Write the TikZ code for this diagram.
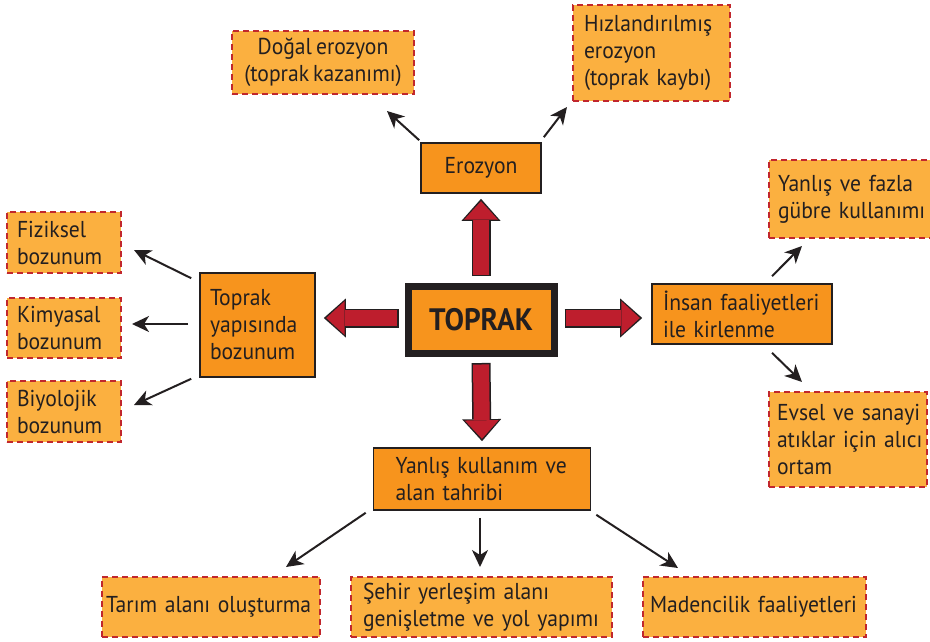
\documentclass[tikz,border=0pt]{standalone}
\usepackage{fontspec}
\setmainfont{PT Sans}[WordSpace=0.7, FakeStretch=0.94]
\usetikzlibrary{arrows.meta, positioning}
\definecolor{corange}{HTML}{F7941D}
\definecolor{clight}{HTML}{FBB040}
\definecolor{cred}{HTML}{BE1E2D}
\definecolor{cdash}{HTML}{C1272D}
\definecolor{cdark}{HTML}{231F20}
\tikzset{
  every node/.style={font=\fontsize{23}{27}\selectfont, text=cdark},
  main/.style={draw=cdark, fill=corange, line width=7pt, minimum width=146pt, minimum height=67pt, font=\fontsize{31}{34}\selectfont\bfseries},
  mid/.style={draw=cdark, fill=corange, line width=1.6pt, align=left, inner xsep=10pt},
  leaf/.style={draw=cdash, fill=clight, line width=2pt, dash pattern=on 6pt off 4pt, align=left, inner xsep=10pt},
  arrow/.style={-{Stealth[length=17pt, width=16pt, inset=5pt]}, draw=cdark, line width=2pt},
  blockarr/.style={draw=cdark, line width=19pt, -{Triangle[length=22pt, width=39pt, line width=0pt]},
    postaction={draw=cred, line width=16pt, -{Triangle[length=18.5pt, width=34pt, line width=0pt]}, shorten >=2.4pt, shorten <=1.5pt}},
}
\begin{document}
\begin{tikzpicture}[x=1pt, y=-1pt]
  \useasboundingbox (0,0) rectangle (930,641);
  \clip (0,0) rectangle (930,641);
  % centre and main branches
  \node[main] (top) at (481,320) {TOPRAK};
  \node[mid, minimum width=120pt, minimum height=50pt] (ero) at (481,168) {Erozyon};
  \node[mid, text width=95pt, minimum height=104pt] (yapi) at (257.5,325) {Toprak\\yapısında\\bozunum};
  \node[mid, inner xsep=11pt, text width=158pt, minimum height=60pt] (insan) at (742,314) {\mbox{İnsan faaliyetleri}\\ile kirlenme};
  \node[mid, inner xsep=22pt, text width=173pt, minimum height=62pt] (yanlis) at (482,479) {\mbox{Yanlış kullanım ve}\\alan tahribi};
  \draw[blockarr] ([shift={(0,-7)}]top.north) -- ([shift={(0,5)}]ero.south);
  \draw[blockarr] ([shift={(0,6)}]top.south) -- ([shift={(0,-6)}]yanlis.north);
  \draw[blockarr] ([shift={(-6,-2)}]top.west) -- ([shift={(8,-7)}]yapi.east);
  \draw[blockarr] ([shift={(7,-2)}]top.east) -- ([shift={(-9,4)}]insan.west);
  % erozyon
  \node[leaf, align=center, minimum width=182pt, minimum height=63pt] (dogal) at (323,62.5) {Doğal erozyon\\(toprak kazanımı)};
  \node[leaf, inner xsep=11pt, text width=135pt, minimum height=96pt] (hizli) at (651.5,53) {\mbox{Hızlandırılmış}\\erozyon\\\mbox{(toprak kaybı)}};
  \draw[arrow] ([shift={(-1,-2)}]ero.north west) -- ([shift={(-28,16)}]dogal.south east);
  \draw[arrow] ([shift={(2,-5)}]ero.north east) -- ([shift={(-5,5)}]hizli.south west);
  % bozunum
  \node[leaf, text width=94pt, minimum height=61pt] (fiz) at (64,242.5) {Fiziksel\\bozunum};
  \node[leaf, text width=94pt, minimum height=60pt] (kim) at (64,328) {Kimyasal\\bozunum};
  \node[leaf, text width=94pt, minimum height=61pt] (biyo) at (64,411.5) {Biyolojik\\bozunum};
  \draw[arrow] ([shift={(-8,6)}]yapi.north west) -- ([shift={(12,7.5)}]fiz.east);
  \draw[arrow] ([shift={(-11,-1)}]yapi.west) -- ([shift={(10,-4)}]kim.east);
  \draw[arrow] ([shift={(-8,1)}]yapi.south west) -- ([shift={(12,-6.5)}]biyo.east);
  % kirlenme
  \node[leaf, inner xsep=9pt, text width=172pt, minimum height=78pt] (gubre) at (864,199) {Yanlış ve fazla\\\mbox{gübre kullanımı}};
  \node[leaf, inner xsep=8pt, text width=142pt, minimum height=95pt] (evsel) at (848,439.5) {\mbox{Evsel ve sanayi}\\\mbox{atıklar için alıcı}\\ortam};
  \draw[arrow] ([shift={(30,-7)}]insan.north) -- ([shift={(34,7)}]gubre.south west);
  \draw[arrow] ([shift={(30,8)}]insan.south) -- ([shift={(34,-9)}]evsel.north west);
  % tahrip
  \node[leaf, inner xsep=4pt, text width=210pt, minimum height=60pt] (tarim) at (211,607) {\mbox{Tarım alanı oluşturma}};
  \node[leaf, inner xsep=12pt, text width=237pt, minimum height=60pt] (sehir) at (481.5,607) {\mbox{Şehir yerleşim alanı}\\\mbox{genişletme ve yol yapımı}};
  \node[leaf, inner xsep=7pt, text width=209pt, minimum height=60pt] (maden) at (754.5,607) {\mbox{Madencilik faaliyetleri}};
  \draw[arrow] ([shift={(-7,2)}]yanlis.south west) -- ([shift={(-35,-9)}]tarim.north east);
  \draw[arrow] ([shift={(-2,7)}]yanlis.south) -- ([shift={(-1.5,-9)}]sehir.north);
  \draw[arrow] ([shift={(5,4)}]yanlis.south east) -- ([shift={(36,-8)}]maden.north west);
\end{tikzpicture}
\end{document}
